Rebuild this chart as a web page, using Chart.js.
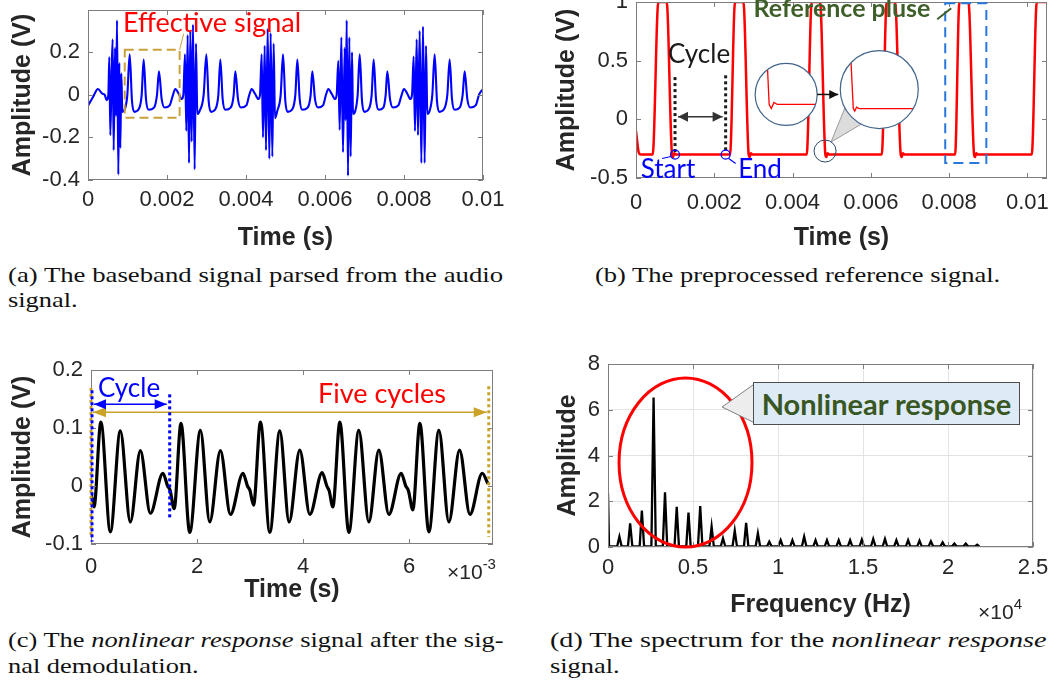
<!DOCTYPE html>
<html><head><meta charset="utf-8">
<script src="https://cdn.jsdelivr.net/npm/chart.js@4/dist/chart.umd.min.js"></script>
<style>
body{margin:0;width:1054px;height:694px;position:relative;background:#fff;overflow:hidden;}
canvas{position:absolute;}
.t{position:absolute;white-space:nowrap;transform:translate(-50%,-50%);line-height:1;font-family:Lato,"Open Sans",sans-serif;}
.cap{position:absolute;font-family:"Liberation Serif","Times New Roman",serif;font-size:22px;color:#111;white-space:nowrap;line-height:1;transform-origin:0 0;transform:scaleX(1.2);}
.mul{position:absolute;font-family:"Liberation Sans",Arial,sans-serif;font-size:21px;color:#262626;line-height:1;white-space:nowrap;}
.mul sup{font-size:15px;position:relative;top:-2px;}
.box{position:absolute;box-sizing:border-box;background:#DEEBF7;border:1.5px solid #4d4d4d;display:flex;align-items:center;justify-content:center;font-family:Lato,sans-serif;font-weight:bold;color:#385723;white-space:nowrap;}
</style></head><body>
<canvas id="cA" width="501" height="253" style="left:8px;top:0px;width:501px;height:253px"></canvas>
<canvas id="cB" width="502" height="253" style="left:552px;top:0px;width:502px;height:253px"></canvas>
<canvas id="cC" width="512" height="255" style="left:8px;top:350px;width:512px;height:255px"></canvas>
<canvas id="cD" width="501" height="280" style="left:553px;top:340px;width:501px;height:280px"></canvas>

<div class="t" style="left:212px;top:21px;color:#ff0000;font-size:27px">Effective signal</div>
<div class="t" style="left:699px;top:53px;color:#1a1a1a;font-size:26px">Cycle</div>
<div class="t" style="left:668px;top:168px;color:#0000ff;font-size:26px">Start</div>
<div class="t" style="left:760px;top:168px;color:#0000ff;font-size:26px">End</div>
<div class="t" style="left:842px;top:7px;color:#3f5f2a;font-size:25px;font-weight:bold">Reference pluse</div>
<div class="t" style="left:129px;top:387px;color:#0000ff;font-size:26px">Cycle</div>
<div class="t" style="left:382px;top:392px;color:#ff0000;font-size:27px">Five cycles</div>
<div class="box" style="left:753px;top:382px;width:267px;height:43px;font-size:29px">Nonlinear response</div>
<div class="mul" style="left:447px;top:558px">×10<sup>-3</sup></div>
<div class="mul" style="left:978px;top:598px">×10<sup>4</sup></div>

<div class="cap fit" data-w="495" style="left:8px;top:264px">(a) The baseband signal parsed from the audio</div>
<div class="cap" style="left:8px;top:289px">signal.</div>
<div class="cap fit" data-w="405" style="left:595px;top:264px">(b) The preprocessed reference signal.</div>
<div class="cap fit" data-w="495" style="left:8px;top:629px">(c) The <i>nonlinear response</i> signal after the sig-</div>
<div class="cap" style="left:8px;top:655px">nal demodulation.</div>
<div class="cap fit" data-w="497" style="left:550px;top:629px">(d) The spectrum for the <i>nonlinear response</i></div>
<div class="cap" style="left:550px;top:655px">signal.</div>

<script>
// ================= DATA =================
// (a) baseband signal: time (ms) and amplitude (V)
const timeA_ms = [
  0, 0.127, 0.253, 0.363, 0.422, 0.473, 0.515,
  0.540, 0.565, 0.599, 0.624, 0.650, 0.684, 0.709, 0.734, 0.768, 0.793, 0.819, 0.844, 0.869, 0.928, 0.996,
  1.055, 1.114, 1.173, 1.291, 1.359, 1.409, 1.468, 1.536, 1.671, 1.747, 1.797, 1.865, 1.941, 2.068, 2.152, 2.211, 2.295, 2.371, 2.414,
  2.456, 2.489, 2.523, 2.557, 2.591, 2.624, 2.658, 2.700, 2.734, 2.768, 2.827, 2.928,
  2.996, 3.055, 3.114, 3.232, 3.300, 3.350, 3.409, 3.477, 3.612, 3.688, 3.730, 3.797, 3.873, 4.008, 4.084, 4.143, 4.228, 4.312, 4.354,
  4.397, 4.430, 4.473, 4.506, 4.549, 4.591, 4.624, 4.667, 4.700, 4.734, 4.793, 4.878,
  4.937, 4.996, 5.055, 5.181, 5.249, 5.300, 5.359, 5.426, 5.561, 5.637, 5.679, 5.747, 5.823, 5.949, 6.025, 6.084, 6.169, 6.253, 6.295,
  6.338, 6.371, 6.414, 6.456, 6.498, 6.523, 6.549, 6.582, 6.616, 6.650, 6.684, 6.709, 6.768, 6.827,
  6.878, 6.937, 6.996, 7.114, 7.181, 7.232, 7.291, 7.359, 7.477, 7.536, 7.578, 7.646, 7.722, 7.857, 7.941, 8.000, 8.084, 8.160, 8.203,
  8.245, 8.278, 8.321, 8.354, 8.397, 8.439, 8.481, 8.523, 8.557, 8.591, 8.650, 8.717,
  8.776, 8.835, 8.894, 9.021, 9.097, 9.156, 9.215, 9.283, 9.409, 9.485, 9.536, 9.603, 9.679, 9.814, 9.899, 9.983
];
const voltA = [
  -0.052, -0.010, 0.027, 0.005, 0.000, -0.025, 0.000,
  0.177, -0.190, 0.100, 0.260, -0.260, 0.220, -0.100, 0.350, -0.375, 0.150, -0.250, 0.100, -0.080, -0.070, 0.000,
  0.190, -0.030, -0.080, -0.065, 0.000, 0.165, -0.020, -0.070, -0.060, 0.000, 0.110, -0.020, -0.060, -0.050, 0.000, 0.027, 0.005, -0.020, 0.000,
  0.190, -0.170, 0.280, -0.320, 0.300, -0.220, 0.330, -0.350, 0.240, -0.090, -0.075, 0.000,
  0.190, -0.030, -0.080, -0.065, 0.000, 0.165, -0.020, -0.070, -0.060, 0.000, 0.110, -0.020, -0.060, -0.050, 0.000, 0.027, 0.005, -0.020, 0.000,
  0.190, -0.200, 0.230, -0.260, 0.310, -0.300, 0.290, -0.290, 0.240, -0.110, -0.075, 0.000,
  0.190, -0.030, -0.080, -0.065, 0.000, 0.165, -0.020, -0.070, -0.060, 0.000, 0.110, -0.020, -0.060, -0.050, 0.000, 0.027, 0.005, -0.020, 0.000,
  0.160, -0.165, 0.270, -0.270, 0.220, -0.120, 0.350, -0.380, 0.270, -0.290, 0.200, -0.090, -0.075, 0.000,
  0.190, -0.030, -0.080, -0.065, 0.000, 0.165, -0.020, -0.070, -0.060, 0.000, 0.110, -0.020, -0.060, -0.050, 0.000, 0.027, 0.005, -0.020, 0.000,
  0.180, -0.170, 0.260, -0.190, 0.300, -0.320, 0.320, -0.320, 0.230, -0.090, -0.075, 0.000,
  0.190, -0.030, -0.080, -0.065, 0.000, 0.165, -0.020, -0.070, -0.060, 0.000, 0.110, -0.020, -0.060, -0.050, 0.000, 0.025
];
// (b) preprocessed reference signal
const timeB_ms = [
  0, 0.068, 0.119,
  0.426, 0.571, 0.784, 0.920, 0.945, 0.975, 1.015,
  2.402, 2.530, 2.743, 2.879, 2.904, 2.934, 2.974,
  4.361, 4.489, 4.702, 4.838, 4.863, 4.893, 4.933,
  6.278, 6.405, 6.618, 6.763, 6.788, 6.818, 6.858,
  8.152, 8.262, 8.492, 8.637, 8.662, 8.692, 8.732,
  10.111, 10.239, 10.510
];
const voltB = [
  -0.10, -0.28, -0.30,
  -0.30, 1.00, 1.00, -0.30, -0.32, -0.29, -0.30,
  -0.30, 1.00, 1.00, -0.30, -0.32, -0.29, -0.30,
  -0.30, 1.00, 1.00, -0.30, -0.32, -0.29, -0.30,
  -0.30, 1.00, 1.00, -0.30, -0.32, -0.29, -0.30,
  -0.30, 1.00, 1.00, -0.30, -0.32, -0.29, -0.30,
  -0.30, 1.00, 1.00
];
// (c) nonlinear response signal
const timeC_ms = [
  0, 0.057, 0.186, 0.365, 0.553, 0.742, 0.931, 1.119, 1.356, 1.445, 1.490,
  1.568, 1.697, 1.862, 2.063, 2.239, 2.440, 2.629, 2.866, 2.950, 2.995,
  3.065, 3.195, 3.371, 3.560, 3.736, 3.937, 4.126, 4.358, 4.447, 4.490,
  4.560, 4.692, 4.862, 5.050, 5.239, 5.428, 5.616, 5.849, 5.935, 5.985,
  6.068, 6.201, 6.371, 6.560, 6.748, 6.950, 7.145, 7.377, 7.484
];
const voltC = [
  -0.012, -0.036, 0.110, -0.079, 0.095, -0.062, 0.061, -0.047, 0.022, 0.000, -0.007,
  -0.039, 0.108, -0.080, 0.096, -0.062, 0.061, -0.049, 0.022, 0.000, -0.007,
  -0.033, 0.110, -0.080, 0.095, -0.062, 0.062, -0.049, 0.023, 0.000, -0.008,
  -0.036, 0.110, -0.080, 0.096, -0.062, 0.062, -0.049, 0.022, 0.000, -0.008,
  -0.041, 0.108, -0.079, 0.096, -0.062, 0.062, -0.049, 0.022, 0.004
];
// (d) spectrum: harmonic peak frequencies (Hz) and amplitudes
const peakFreqD = [0, 670, 1302, 1992, 2682, 3353, 4043, 4734, 5424, 6095, 6765, 7456, 8126, 8817, 9487, 10158, 10848,
  11538, 12209, 12880, 13570, 14241, 14931, 15602, 16292, 16963, 17653, 18323, 18994, 19684, 20375, 21045, 21716];
const peakAmpD = [2.35, 0.45, 1.03, 1.59, 6.54, 2.39, 1.76, 1.50, 1.79, 0.89, 0.38, 0.71, 1.06, 0.60, 0.23, 0.30, 0.30,
  0.45, 0.30, 0.30, 0.30, 0.30, 0.32, 0.35, 0.35, 0.30, 0.30, 0.28, 0.25, 0.20, 0.15, 0.15, 0.10];
const valleyAmpD = 0.03;
const peakHalfWidthHz = 130;

// tick values and labels
const xTicksA = [0, 0.002, 0.004, 0.006, 0.008, 0.01];
const xLabelsA = ['0', '0.002', '0.004', '0.006', '0.008', '0.01'];
const yTicksA = [-0.4, -0.2, 0, 0.2];
const yLabelsA = ['-0.4', '-0.2', '0', '0.2'];
const xTicksB = [0, 0.002, 0.004, 0.006, 0.008, 0.01];
const xLabelsB = ['0', '0.002', '0.004', '0.006', '0.008', '0.01'];
const yTicksB = [-0.5, 0, 0.5, 1];
const yLabelsB = ['-0.5', '0', '0.5', '1'];
const xTicksC = [0, 0.002, 0.004, 0.006];
const xLabelsC = ['0', '2', '4', '6'];
const yTicksC = [-0.1, 0, 0.1, 0.2];
const yLabelsC = ['-0.1', '0', '0.1', '0.2'];
const xTicksD = [0, 5000, 10000, 15000, 20000, 25000];
const xLabelsD = ['0', '0.5', '1', '1.5', '2', '2.5'];
const yTicksD = [0, 2, 4, 6, 8];
const yLabelsD = ['0', '2', '4', '6', '8'];

// ================= CAPTION FITTING =================
document.querySelectorAll('.cap.fit').forEach(el => {
  const w = +el.dataset.w;
  el.style.transform = 'scaleX(' + (w / el.scrollWidth) + ')';
});

// ================= HELPERS =================
const toPts = (tms, v) => tms.map((t, i) => ({x: t / 1000, y: v[i]}));
const specPts = [];
peakFreqD.forEach((f, i) => {
  if (f > 0) specPts.push({x: f - peakHalfWidthHz, y: valleyAmpD});
  specPts.push({x: f, y: peakAmpD[i]});
  specPts.push({x: f + (f > 0 ? peakHalfWidthHz : 60), y: valleyAmpD});
});

const tickFont = {family: '"Liberation Sans", Arial, sans-serif', size: 22};
const titleFont = {family: '"Liberation Sans", Arial, sans-serif', size: 25, weight: 'bold'};

function arrowLine(ctx, x1, y1, x2, y2, color, lw, head, hw, both) {
  ctx.save();
  ctx.strokeStyle = color; ctx.fillStyle = color; ctx.lineWidth = lw; ctx.setLineDash([]);
  ctx.beginPath(); ctx.moveTo(x1, y1); ctx.lineTo(x2, y2); ctx.stroke();
  const a = Math.atan2(y2 - y1, x2 - x1);
  const heads = [[x2, y2, a]];
  if (both) heads.push([x1, y1, a + Math.PI]);
  heads.forEach(([x, y, b]) => {
    ctx.beginPath(); ctx.moveTo(x, y);
    ctx.lineTo(x - head * Math.cos(b) + hw * Math.sin(b), y - head * Math.sin(b) - hw * Math.cos(b));
    ctx.lineTo(x - head * Math.cos(b) - hw * Math.sin(b), y - head * Math.sin(b) + hw * Math.cos(b));
    ctx.closePath(); ctx.fill();
  });
  ctx.restore();
}

const matlabAxes = {
  id: 'matlabAxes',
  afterDatasetsDraw(chart) {
    const {ctx, chartArea: {left, right, top, bottom}, scales: {x, y}} = chart;
    ctx.save();
    ctx.strokeStyle = '#7d7d7d'; ctx.lineWidth = 1;
    const L = 5;
    ctx.beginPath();
    x.ticks.forEach(t => {
      const p = Math.round(x.getPixelForValue(t.value)) + 0.5;
      ctx.moveTo(p, bottom); ctx.lineTo(p, bottom - L);
      ctx.moveTo(p, top); ctx.lineTo(p, top + L);
    });
    y.ticks.forEach(t => {
      const p = Math.round(y.getPixelForValue(t.value)) + 0.5;
      ctx.moveTo(left, p); ctx.lineTo(left + L, p);
      ctx.moveTo(right, p); ctx.lineTo(right - L, p);
    });
    ctx.stroke();
    ctx.strokeRect(left + 0.5, top + 0.5, right - left - 1, bottom - top - 1);
    ctx.restore();
  }
};

function makeChart(id, cfg) {
  return new Chart(document.getElementById(id), {
    type: 'line',
    data: {datasets: cfg.datasets},
    options: {
      responsive: false, animation: false, devicePixelRatio: 1, events: [],
      layout: {padding: cfg.padding},
      plugins: {legend: {display: false}, tooltip: {enabled: false}},
      scales: {
        x: {
          type: 'linear', min: cfg.xMin, max: cfg.xMax,
          afterBuildTicks: s => { s.ticks = cfg.xTicks.map(v => ({value: v})); },
          afterFit: s => { s.height = cfg.xHeight; s.paddingLeft = 0; s.paddingRight = 0; },
          grid: {display: !!cfg.grid, color: '#e3e3e3', drawTicks: false},
          border: {display: false},
          ticks: {autoSkip: false, maxRotation: 0, padding: cfg.xPad, color: '#262626', font: tickFont,
                   callback: (v, i) => cfg.xLabels[i]},
          title: {display: true, text: cfg.xTitle, color: '#262626', font: titleFont, padding: 0}
        },
        y: {
          type: 'linear', min: cfg.yMin, max: cfg.yMax,
          afterBuildTicks: s => { s.ticks = cfg.yTicks.map(v => ({value: v})); },
          afterFit: s => { s.width = cfg.yWidth; s.paddingTop = 0; s.paddingBottom = 0; },
          grid: {display: !!cfg.grid, color: '#e3e3e3', drawTicks: false},
          border: {display: false},
          ticks: {autoSkip: false, padding: 8, color: '#262626', font: tickFont,
                  callback: (v, i) => cfg.yLabels[i]},
          title: {display: true, text: cfg.yTitle, color: '#262626', font: titleFont, padding: 0}
        }
      }
    },
    plugins: [matlabAxes, cfg.annot]
  });
}

// ================= ANNOTATIONS =================
const annotA = {
  id: 'annotA',
  afterDatasetsDraw(chart) {
    const {ctx, scales: {x, y}} = chart;
    const X = v => x.getPixelForValue(v), Y = v => y.getPixelForValue(v);
    const x1 = X(0.93e-3), x2 = X(2.32e-3), y1 = Y(0.211), y2 = Y(-0.108);
    ctx.save();
    ctx.strokeStyle = '#C9A13B'; ctx.lineWidth = 2; ctx.setLineDash([9, 5]);
    ctx.strokeRect(x1, y1, x2 - x1, y2 - y1);
    ctx.setLineDash([]); ctx.lineWidth = 1;
    ctx.beginPath(); ctx.moveTo(x2, y1); ctx.lineTo(x2 + 4, y1 - 16); ctx.stroke();
    ctx.restore();
  }
};

function drawInset(ctx, cx, cy, r, pts, map) {
  ctx.save();
  ctx.beginPath(); ctx.arc(cx, cy, r, 0, 2 * Math.PI); ctx.fillStyle = '#fff'; ctx.fill();
  ctx.save(); ctx.clip();
  ctx.beginPath();
  pts.forEach((p, i) => { const [px, py] = map(p); if (i) ctx.lineTo(px, py); else ctx.moveTo(px, py); });
  ctx.strokeStyle = '#ff0000'; ctx.lineWidth = 1.3; ctx.stroke();
  ctx.restore();
  ctx.beginPath(); ctx.arc(cx, cy, r, 0, 2 * Math.PI); ctx.strokeStyle = '#41648a'; ctx.lineWidth = 1.2; ctx.stroke();
  ctx.restore();
}

const annotB = {
  id: 'annotB',
  afterDatasetsDraw(chart) {
    const {ctx, scales: {x, y}} = chart;
    const X = v => x.getPixelForValue(v), Y = v => y.getPixelForValue(v);
    ctx.save();
    ctx.strokeStyle = '#1a1a1a'; ctx.lineWidth = 3; ctx.setLineDash([3, 3]);
    [[0.997e-3, 0.36], [2.29e-3, 0.375]].forEach(([t, v]) => {
      ctx.beginPath(); ctx.moveTo(X(t), Y(v)); ctx.lineTo(X(t), Y(-0.285)); ctx.stroke();
    });
    ctx.setLineDash([]);
    arrowLine(ctx, X(0.997e-3) + 3, Y(0.023), X(2.29e-3) - 3, Y(0.023), '#333', 1.5, 10, 5, true);
    const sx = X(0.997e-3), ex = X(2.29e-3), cy = Y(-0.3);
    ctx.strokeStyle = '#0000ff'; ctx.lineWidth = 1.2;
    ctx.beginPath(); ctx.arc(sx, cy, 4.5, 0, 2 * Math.PI); ctx.stroke();
    ctx.beginPath(); ctx.arc(ex, cy, 4.5, 0, 2 * Math.PI); ctx.stroke();
    ctx.beginPath(); ctx.moveTo(sx - 4, cy + 2); ctx.lineTo(sx - 13, cy + 4); ctx.stroke();
    ctx.beginPath(); ctx.moveTo(ex + 3, cy + 4); ctx.lineTo(ex + 10, cy + 9); ctx.stroke();
    const rx1 = X(7.9e-3), rx2 = X(8.95e-3), ry1 = Y(0.99), ry2 = Y(-0.373);
    ctx.strokeStyle = '#2878DC'; ctx.lineWidth = 2; ctx.setLineDash([10, 6]);
    ctx.strokeRect(rx1, ry1, rx2 - rx1, ry2 - ry1);
    ctx.setLineDash([]);
    ctx.strokeStyle = '#3f5f2a'; ctx.lineWidth = 2;
    ctx.beginPath(); ctx.moveTo(rx1 - 8, ry1 + 16); ctx.lineTo(rx1 + 6, ry1 + 5); ctx.stroke();
    const mx = X(4.83e-3), my = Y(-0.27);
    const c1x = X(3.836e-3), c1y = Y(0.212), c2x = X(6.215e-3), c2y = Y(0.254);
    ctx.beginPath();
    ctx.moveTo(mx + 6, my - 9);
    ctx.lineTo(c2x + 39 * Math.cos(2.05), c2y + 39 * Math.sin(2.05));
    ctx.lineTo(c2x + 39 * Math.cos(2.65), c2y + 39 * Math.sin(2.65));
    ctx.closePath();
    ctx.fillStyle = '#dcdcdc'; ctx.fill(); ctx.strokeStyle = '#9a9a9a'; ctx.lineWidth = 1; ctx.stroke();
    ctx.beginPath(); ctx.arc(mx, my, 11, 0, 2 * Math.PI); ctx.strokeStyle = '#2e4a6b'; ctx.lineWidth = 1; ctx.stroke();
    const win = timeB_ms.map((t, i) => ({t, v: voltB[i]})).filter(p => p.t >= 4.702 && p.t <= 6.278);
    drawInset(ctx, c1x, c1y, 31, win, p => [c1x - 17 + (p.t - 4.838) * 87, c1y + 10 - (p.v + 0.3) * 200]);
    drawInset(ctx, c2x, c2y, 39, win, p => [c2x - 26 + (p.t - 4.838) * 60, c2y + 19 - (p.v + 0.3) * 130]);
    arrowLine(ctx, c1x + 31, c1y, c2x - 41, c1y, '#111', 1.5, 9, 4.5, false);
    ctx.restore();
  }
};

const annotC = {
  id: 'annotC',
  afterDatasetsDraw(chart) {
    const {ctx, scales: {x, y}} = chart;
    const X = v => x.getPixelForValue(v), Y = v => y.getPixelForValue(v);
    const gold = '#C9A227';
    ctx.save();
    ctx.lineWidth = 3; ctx.setLineDash([3, 3]); ctx.strokeStyle = gold;
    [[0, 0.169], [7.5e-3, 0.172]].forEach(([t, v]) => {
      ctx.beginPath(); ctx.moveTo(X(t), Y(v)); ctx.lineTo(X(t), Y(-0.088)); ctx.stroke();
    });
    ctx.setLineDash([]);
    arrowLine(ctx, X(0) + 2, Y(0.127), X(7.5e-3) - 2, Y(0.127), gold, 1.5, 13, 5, true);
    ctx.lineWidth = 3; ctx.setLineDash([3, 3]); ctx.strokeStyle = '#0000ff';
    [[0, 0.165, -0.096], [1.465e-3, 0.158, -0.056]].forEach(([t, v1, v2]) => {
      ctx.beginPath(); ctx.moveTo(X(t) + 1, Y(v1)); ctx.lineTo(X(t) + 1, Y(v2)); ctx.stroke();
    });
    ctx.setLineDash([]);
    arrowLine(ctx, X(0) + 3, Y(0.141), X(1.465e-3) - 2, Y(0.141), '#0000ff', 1.5, 12, 5, true);
    ctx.restore();
  }
};

const annotD = {
  id: 'annotD',
  afterDatasetsDraw(chart) {
    const {ctx, scales: {x, y}} = chart;
    const X = v => x.getPixelForValue(v), Y = v => y.getPixelForValue(v);
    ctx.save();
    const cx = (X(650) + X(8470)) / 2, cy = (Y(0) + Y(7.39)) / 2;
    const rx = (X(8470) - X(650)) / 2, ry = (Y(0) - Y(7.39)) / 2;
    ctx.beginPath(); ctx.ellipse(cx, cy, rx, ry, 0, 0, 2 * Math.PI);
    ctx.strokeStyle = '#ff0000'; ctx.lineWidth = 3; ctx.stroke();
    ctx.beginPath();
    ctx.moveTo(X(6710), Y(6.12)); ctx.lineTo(X(8560), Y(7.10)); ctx.lineTo(X(8560), Y(5.45)); ctx.closePath();
    ctx.fillStyle = '#ededed'; ctx.fill(); ctx.strokeStyle = '#7f7f7f'; ctx.lineWidth = 1; ctx.stroke();
    ctx.restore();
  }
};

// ================= CHARTS =================
const lineDs = (data, color, w, mono) => ({
  data, borderColor: color, borderWidth: w, pointRadius: 0, fill: false,
  cubicInterpolationMode: mono ? 'monotone' : 'default', tension: 0
});

makeChart('cA', {
  datasets: [lineDs(toPts(timeA_ms, voltA), '#0000ff', 2.1, true)],
  padding: {left: 0, top: 10, right: 26, bottom: 0},
  xMin: 0, xMax: 0.01, yMin: -0.4, yMax: 0.398,
  xTicks: xTicksA, xLabels: xLabelsA, yTicks: yTicksA, yLabels: yLabelsA,
  xTitle: 'Time (s)', yTitle: 'Amplitude (V)', yWidth: 80, xHeight: 73, xPad: 7, annot: annotA
});
makeChart('cB', {
  datasets: [lineDs(toPts(timeB_ms, voltB), '#ff0000', 2.5, true)],
  padding: {left: 0, top: 2, right: 7, bottom: 0},
  xMin: 0, xMax: 0.0105, yMin: -0.5, yMax: 1,
  xTicks: xTicksB, xLabels: xLabelsB, yTicks: yTicksB, yLabels: yLabelsB,
  xTitle: 'Time (s)', yTitle: 'Amplitude (V)', yWidth: 84, xHeight: 75, xPad: 12, annot: annotB
});
makeChart('cC', {
  datasets: [lineDs(toPts(timeC_ms, voltC), '#000000', 3.2, true)],
  padding: {left: 0, top: 20, right: 27, bottom: 0},
  xMin: 0, xMax: 0.00758, yMin: -0.1, yMax: 0.2,
  xTicks: xTicksC, xLabels: xLabelsC, yTicks: yTicksC, yLabels: yLabelsC,
  xTitle: 'Time (s)', yTitle: 'Amplitude (V)', yWidth: 83, xHeight: 61, xPad: 10, annot: annotC
});
makeChart('cD', {
  datasets: [lineDs(specPts, '#000000', 2.3, false)],
  padding: {left: 0, top: 24, right: 21, bottom: 0},
  xMin: 0, xMax: 25000, yMin: 0, yMax: 8, grid: true,
  xTicks: xTicksD, xLabels: xLabelsD, yTicks: yTicksD, yLabels: yLabelsD,
  xTitle: 'Frequency (Hz)', yTitle: 'Amplitude', yWidth: 55, xHeight: 73, xPad: 8, annot: annotD
});
</script>
</body></html>
